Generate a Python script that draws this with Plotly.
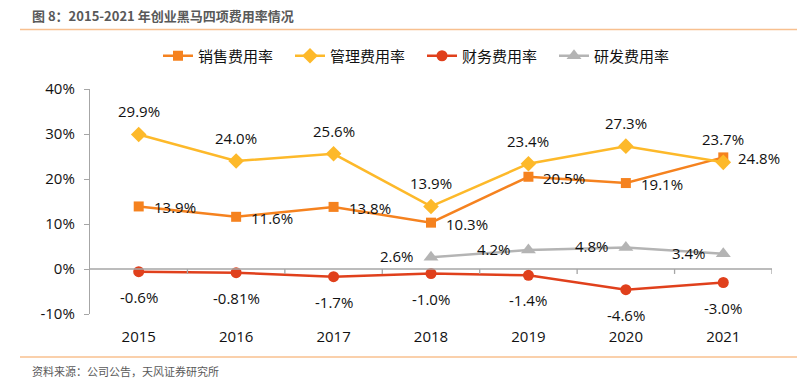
import plotly.graph_objects as go

years = ["2015", "2016", "2017", "2018", "2019", "2020", "2021"]
sales = [13.9, 11.6, 13.8, 10.3, 20.5, 19.1, 24.8]
admin = [29.9, 24.0, 25.6, 13.9, 23.4, 27.3, 23.7]
finance = [-0.6, -0.81, -1.7, -1.0, -1.4, -4.6, -3.0]
rnd = [None, None, None, 2.6, 4.2, 4.8, 3.4]
y_ticks = [-10, 0, 10, 20, 30, 40]
y_tick_labels = ["-10%", "0%", "10%", "20%", "30%", "40%"]

FONT = "Open Sans, Noto Sans CJK SC, sans-serif"
CJK = "Noto Sans CJK SC, sans-serif"
C_SALES = "#F5821F"
C_ADMIN = "#FDB92A"
C_FIN = "#E0401C"
C_RND = "#B4B4B4"

PW, PH = 682, 225  # plot area size in px

fig = go.Figure()
series = [
    ("销售费用率", sales, C_SALES, "square", 10),
    ("管理费用率", admin, C_ADMIN, "diamond", 12),
    ("财务费用率", finance, C_FIN, "circle", 11),
    ("研发费用率", rnd, C_RND, "triangle-up", 13),
]
for name, vals, col, sym, sz in series:
    fig.add_trace(go.Scatter(
        x=years, y=vals, name=name, mode="lines+markers",
        line=dict(color=col, width=2.5),
        marker=dict(symbol=sym, size=sz, color=col),
        connectgaps=False,
    ))

ann = []
lab_font = dict(family=FONT, size=15, color="#111111")
for i, v in enumerate(admin):
    ann.append(dict(x=i, y=v, xref="x", yref="y", text=f"{v}%", showarrow=False, yshift=23,
                    xanchor="center", yanchor="middle", font=lab_font))
for i, v in enumerate(sales):
    ann.append(dict(x=i, y=v, xref="x", yref="y", text=f"{v}%", showarrow=False, xshift=13, yshift=-1,
                    xanchor="left", yanchor="middle", font=lab_font))
for i, v in enumerate(finance):
    ann.append(dict(x=i, y=v, xref="x", yref="y", text=f"{v}%", showarrow=False, yshift=-25,
                    xanchor="center", yanchor="middle", font=lab_font))
for i, v in enumerate(rnd):
    if v is None:
        continue
    ann.append(dict(x=i, y=v, xref="x", yref="y", text=f"{v}%", showarrow=False, xshift=-15, yshift=1,
                    xanchor="right", yanchor="middle", font=lab_font))

# title and source
ann.append(dict(xref="paper", yref="paper", x=-60/PW, y=1 + (89-16)/PH,
                text="<b>图 8：2015-2021 年创业黑马四项费用率情况</b>", showarrow=False,
                xanchor="left", yanchor="middle",
                font=dict(family=CJK, size=13, color="#595959")))
ann.append(dict(xref="paper", yref="paper", x=-60/PW, y=-(371-314)/PH,
                text="资料来源：公司公告，天风证券研究所", showarrow=False,
                xanchor="left", yanchor="middle",
                font=dict(family=CJK, size=11, color="#595959")))

shapes = [
    dict(type="line", xref="paper", yref="paper", x0=-70/PW, x1=1 + 25/PW,
         y0=1 + (89-29.5)/PH, y1=1 + (89-29.5)/PH,
         line=dict(color="#F8C08F", width=1.5)),
    dict(type="line", xref="paper", yref="paper", x0=-70/PW, x1=1 + 25/PW,
         y0=-(357-314)/PH, y1=-(357-314)/PH,
         line=dict(color="#F8C08F", width=1.5)),
    dict(type="line", xref="paper", yref="y", x0=0, x1=1, y0=0, y1=0,
         line=dict(color="#A6A6A6", width=1.3)),
]
for k in range(len(years)):
    shapes.append(dict(type="line", xref="x", yref="y", x0=k + 0.5, x1=k + 0.5,
                       y0=0, y1=-1.1, line=dict(color="#A6A6A6", width=1.3)))

fig.update_layout(
    width=797, height=381,
    margin=dict(l=90, r=25, t=89, b=67, autoexpand=False),
    paper_bgcolor="white", plot_bgcolor="white",
    font=dict(family=FONT, size=15, color="#111111"),
    showlegend=True,
    legend=dict(orientation="h", x=(158-90)/PW, y=1 + (89-56)/PH,
                xanchor="left", yanchor="middle",
                font=dict(family=CJK, size=15, color="#111111"),
                entrywidth=87, entrywidthmode="pixels", itemwidth=30,
                tracegroupgap=0, bgcolor="rgba(0,0,0,0)"),
    xaxis=dict(type="category", range=[-0.5, 6.5], showgrid=False, showline=False,
               zeroline=False, ticks="", tickfont=dict(family=FONT, size=15, color="#111111"),
               ticklabelstandoff=12, automargin=False),
    yaxis=dict(range=[-10, 40], tickvals=y_ticks, ticktext=y_tick_labels,
               showgrid=False, zeroline=False, showline=True, linecolor="#A6A6A6",
               linewidth=1.3, ticks="outside", ticklen=5, tickcolor="#A6A6A6",
               tickfont=dict(family=FONT, size=15, color="#111111"),
               ticklabelstandoff=6, automargin=False),
    annotations=ann,
    shapes=shapes,
)

fig.write_html("out.html", config={"displayModeBar": False},
               post_script="document.body.style.margin='0';")
